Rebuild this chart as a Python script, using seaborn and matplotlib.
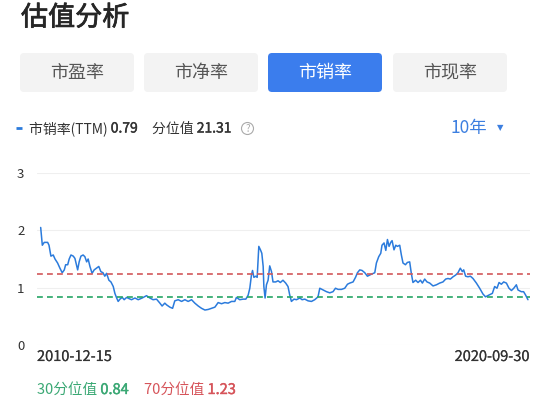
import pandas as pd
import seaborn as sns
import matplotlib.pyplot as plt
import matplotlib.patheffects as pe
from matplotlib.patches import FancyBboxPatch, Circle

dates = [
    "2010-12-20", "2011-01-01", "2011-01-15", "2011-02-09", "2011-02-19", "2011-03-05",
    "2011-03-22", "2011-04-04", "2011-04-23", "2011-05-10", "2011-05-27", "2011-06-11",
    "2011-06-21", "2011-07-06", "2011-07-17", "2011-07-30", "2011-08-16", "2011-08-28",
    "2011-09-17", "2011-09-28", "2011-10-11", "2011-10-27", "2011-11-09", "2011-11-22",
    "2011-12-03", "2011-12-16", "2012-01-01", "2012-01-16", "2012-02-02", "2012-02-19",
    "2012-03-05", "2012-03-21", "2012-04-03", "2012-04-16", "2012-05-03", "2012-05-18",
    "2012-06-04", "2012-06-16", "2012-06-29", "2012-07-10", "2012-07-23", "2012-08-09",
    "2012-08-23", "2012-09-10", "2012-09-27", "2012-10-16", "2012-11-10", "2012-12-04",
    "2013-01-02", "2013-02-03", "2013-02-27", "2013-03-23", "2013-04-17", "2013-05-12",
    "2013-05-28", "2013-06-17", "2013-06-30", "2013-07-24", "2013-08-13", "2013-08-29",
    "2013-09-23", "2013-10-18", "2013-11-11", "2013-12-05", "2013-12-30", "2014-01-23",
    "2014-02-17", "2014-03-13", "2014-04-07", "2014-05-01", "2014-05-26", "2014-06-19",
    "2014-07-13", "2014-08-07", "2014-08-31", "2014-09-24", "2014-10-19", "2014-11-12",
    "2014-11-24", "2014-12-18", "2015-01-12", "2015-02-01", "2015-02-18", "2015-03-02",
    "2015-03-14", "2015-03-22", "2015-04-01", "2015-04-15", "2015-04-25", "2015-05-07",
    "2015-05-19", "2015-05-29", "2015-06-08", "2015-06-13", "2015-06-22", "2015-07-02",
    "2015-07-14", "2015-07-26", "2015-08-08", "2015-08-19", "2015-09-08", "2015-09-25",
    "2015-10-12", "2015-10-31", "2015-11-20", "2015-12-07", "2015-12-19", "2016-01-01",
    "2016-01-20", "2016-02-07", "2016-03-03", "2016-03-19", "2016-04-08", "2016-05-02",
    "2016-05-27", "2016-06-20", "2016-07-14", "2016-07-27", "2016-08-20", "2016-09-14",
    "2016-10-08", "2016-11-01", "2016-11-19", "2016-12-08", "2017-01-02", "2017-01-26",
    "2017-02-15", "2017-03-04", "2017-03-28", "2017-04-15", "2017-04-29", "2017-05-16",
    "2017-06-02", "2017-06-22", "2017-07-11", "2017-07-28", "2017-08-14", "2017-09-03",
    "2017-09-15", "2017-10-02", "2017-10-17", "2017-10-26", "2017-11-10", "2017-11-23",
    "2017-12-05", "2017-12-17", "2017-12-29", "2018-01-08", "2018-01-22", "2018-02-04",
    "2018-02-16", "2018-03-05", "2018-03-17", "2018-03-29", "2018-04-16", "2018-04-30",
    "2018-05-17", "2018-05-29", "2018-06-10", "2018-06-30", "2018-07-17", "2018-08-04",
    "2018-08-18", "2018-09-04", "2018-09-21", "2018-10-11", "2018-11-04", "2018-11-29",
    "2018-12-23", "2019-01-16", "2019-02-05", "2019-02-22", "2019-03-11", "2019-03-31",
    "2019-04-19", "2019-05-06", "2019-05-23", "2019-06-07", "2019-06-17", "2019-07-01",
    "2019-07-18", "2019-08-05", "2019-08-24", "2019-09-18", "2019-10-12", "2019-11-05",
    "2019-11-24", "2019-12-18", "2020-01-13", "2020-01-30", "2020-02-16", "2020-03-02",
    "2020-03-19", "2020-04-05", "2020-04-25", "2020-05-14", "2020-06-01", "2020-06-18",
    "2020-07-07", "2020-07-19", "2020-08-12", "2020-08-29", "2020-09-13", "2020-09-30",
]
ps_ratio = [
    2.05, 1.74, 1.79, 1.79, 1.74, 1.55,
    1.57, 1.50, 1.43, 1.34, 1.26, 1.31,
    1.40, 1.40, 1.50, 1.57, 1.55, 1.51,
    1.31, 1.45, 1.55, 1.57, 1.54, 1.45,
    1.50, 1.37, 1.25, 1.31, 1.34, 1.37,
    1.28, 1.26, 1.20, 1.25, 1.13, 1.10,
    1.02, 0.90, 0.82, 0.76, 0.80, 0.83,
    0.79, 0.83, 0.81, 0.79, 0.82, 0.79,
    0.82, 0.86, 0.82, 0.79, 0.80, 0.73,
    0.68, 0.73, 0.70, 0.66, 0.64, 0.77,
    0.79, 0.76, 0.79, 0.76, 0.79, 0.73,
    0.68, 0.64, 0.61, 0.62, 0.64, 0.66,
    0.74, 0.72, 0.74, 0.73, 0.76, 0.76,
    0.83, 0.79, 0.80, 0.80, 0.87, 0.99,
    1.22, 1.30, 1.18, 1.20, 1.18, 1.72,
    1.66, 1.60, 1.37, 1.02, 0.82, 1.05,
    1.13, 1.38, 1.28, 1.10, 1.10, 1.12,
    1.09, 1.13, 1.08, 1.02, 0.88, 0.76,
    0.80, 0.79, 0.82, 0.79, 0.80, 0.77,
    0.76, 0.79, 0.84, 0.99, 0.96, 0.93,
    0.91, 0.93, 0.99, 0.97, 0.97, 0.99,
    1.06, 1.08, 1.10, 1.18, 1.26, 1.31,
    1.30, 1.26, 1.20, 1.22, 1.24, 1.26,
    1.43, 1.54, 1.60, 1.74, 1.78, 1.65,
    1.84, 1.72, 1.79, 1.82, 1.66, 1.74,
    1.72, 1.74, 1.57, 1.43, 1.40, 1.44,
    1.45, 1.25, 1.09, 1.13, 1.09, 1.13,
    1.08, 1.15, 1.10, 1.08, 1.03, 1.05,
    1.08, 1.10, 1.15, 1.16, 1.15, 1.19,
    1.22, 1.26, 1.34, 1.28, 1.31, 1.20,
    1.19, 1.20, 1.16, 1.08, 0.99, 0.89,
    0.84, 0.87, 0.90, 1.02, 0.99, 1.09,
    1.06, 1.10, 1.08, 0.99, 0.95, 0.99,
    1.05, 0.96, 0.93, 0.93, 0.87, 0.79,
]

tabs = ["市盈率", "市净率", "市销率", "市现率"]
active_tab = "市销率"
y_ticks = [0, 1, 2, 3]
x_labels = ["2010-12-15", "2020-09-30"]
p30 = 0.84
p70 = 1.23
current = 0.79
percentile = 21.31

df = pd.DataFrame({"date": pd.to_datetime(dates), "ps": ps_ratio})

sns.set_theme(style="white")
plt.rcParams["font.family"] = ["Noto Sans CJK SC", "DejaVu Sans"]

blue = "#2b7bdc"
red = "#d2585a"
green = "#25a565"


def heavy(color, w):
    # a thin stroke of the same colour to get a medium weight
    return [pe.withStroke(linewidth=w, foreground=color)]


fig = plt.figure(figsize=(5.54, 4.03), dpi=100)
fig.patch.set_facecolor("white")

# overlay in pixel coordinates for header / footer
ov = fig.add_axes([0, 0, 1, 1], zorder=0)
ov.set_xlim(0, 554)
ov.set_ylim(403, 0)
ov.axis("off")

ov.text(21, 18, "估值分析", fontsize=19.5, color="#262626", va="center", ha="left",
        path_effects=heavy("#262626", 0.55))

tab_x = [20, 144, 268, 393]
for tx, name in zip(tab_x, tabs):
    on = name == active_tab
    box = FancyBboxPatch((tx, 53), 114, 39, boxstyle="round,pad=0,rounding_size=4",
                         facecolor="#3b7ded" if on else "#f3f3f3", edgecolor="none")
    ov.add_patch(box)
    ov.text(tx + 57, 73, name, fontsize=13, ha="center", va="center",
            color="white" if on else "#555555")

ov.plot([16, 22], [128, 128], color=blue, lw=2, solid_capstyle="butt")
t1 = ov.text(29, 128.5, "市销率(TTM) ", fontsize=10, color="#333333", va="center")
ov.annotate(f"{current}", xycoords=t1, xy=(1, 0.5), va="center", fontsize=10,
            color="#333333", path_effects=heavy("#333333", 0.3))
t2 = ov.text(152, 128.5, "分位值 ", fontsize=10, color="#333333", va="center")
ov.annotate(f"{percentile}", xycoords=t2, xy=(1, 0.5), va="center", fontsize=10,
            color="#333333", path_effects=heavy("#333333", 0.3))
ov.add_patch(Circle((247.5, 128.5), 6, facecolor="none", edgecolor="#aaaaaa", lw=0.8))
ov.text(247.5, 129, "?", fontsize=7, color="#aaaaaa", ha="center", va="center")
ov.text(487, 128, "10年", fontsize=12.5, color="#3c7fe0", ha="right", va="center")
ov.text(500, 128, "▼", fontsize=6, color="#3c7fe0", ha="center", va="center", family="DejaVu Sans")

b1 = ov.text(37, 390, "30分位值 ", fontsize=10.5, color="#3aa874", va="center")
ov.annotate(f"{p30}", xycoords=b1, xy=(1, 0.5), va="center", fontsize=10.5,
            color="#3aa874", path_effects=heavy("#3aa874", 0.3))
b2 = ov.text(144, 390, "70分位值 ", fontsize=10.5, color="#d6545a", va="center")
ov.annotate(f"{p70}", xycoords=b2, xy=(1, 0.5), va="center", fontsize=10.5,
            color="#d6545a", path_effects=heavy("#d6545a", 0.3))

# chart area
ax = fig.add_axes([37 / 554, 1 - 345 / 403, 493 / 554, 172 / 403], zorder=1)
ax.patch.set_alpha(0)
sns.lineplot(data=df, x="date", y="ps", ax=ax, color=blue, lw=1.1)
ax.axhline(p70, color=red, lw=1.2, ls=(0, (3.5, 2.5)))
ax.axhline(p30, color=green, lw=1.2, ls=(0, (3.5, 2.5)))

ax.set_ylim(0, 3)
ax.set_xlim(pd.Timestamp("2010-11-23"), pd.Timestamp("2020-10-15"))
ax.set_yticks(y_ticks)
ax.set_yticklabels([str(t) for t in y_ticks])
ax.grid(axis="y", color="#efefef", lw=0.8)
ax.set_xticks([])
ax.set_xlabel("")
ax.set_ylabel("")
for s in ax.spines.values():
    s.set_visible(False)
ax.tick_params(axis="y", length=0, pad=9, labelsize=9.5, labelcolor="#333333")

ov.text(37, 357, x_labels[0], fontsize=10.5, color="#333333", va="center", ha="left",
        path_effects=heavy("#333333", 0.12))
ov.text(530, 357, x_labels[1], fontsize=10.5, color="#333333", va="center", ha="right",
        path_effects=heavy("#333333", 0.12))

fig.savefig("out.png", dpi=100)
